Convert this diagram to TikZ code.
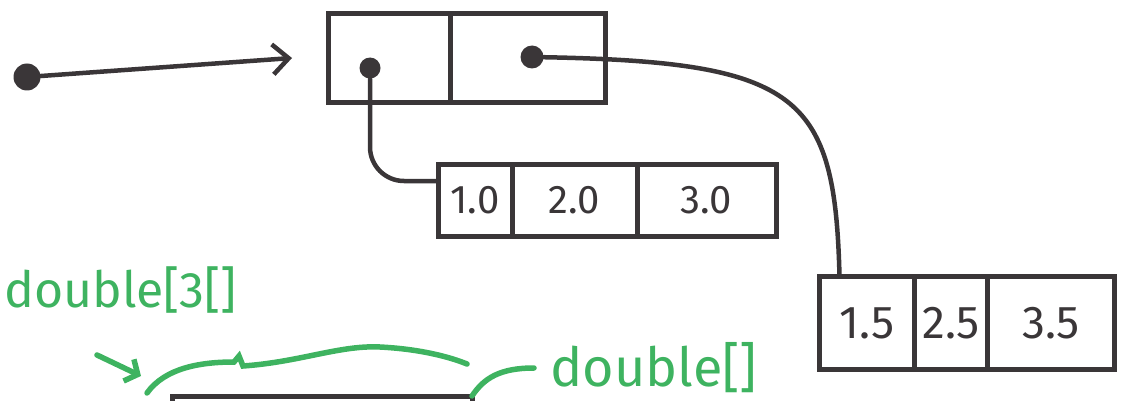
\documentclass[tikz,border=0pt]{standalone}
\usepackage{fontspec}
\setmainfont{Fira Sans}
\usetikzlibrary{positioning,arrows.meta}
\definecolor{ink}{RGB}{58,54,56}
\definecolor{marker}{RGB}{62,179,96}

\begin{document}
\begin{tikzpicture}[x=1pt,y=-1pt,
    cell/.style={draw=ink,line width=5pt,outer sep=0pt,inner sep=0pt,text=ink},
    ball/.style={circle,fill=ink,inner sep=0pt,minimum size=#1},
    link/.style={draw=ink,line width=4.5pt,line cap=round},
    note/.style={draw=marker,line width=5.5pt,line cap=round},
    notetext/.style={text=marker,inner sep=0pt,font=\fontsize{54}{58}\selectfont}]
  \useasboundingbox (0,0) rectangle (1147,401);

  \node[cell,minimum width=122pt,minimum height=89pt] (h0) at (389,58) {};
  \node[cell,minimum width=155pt,minimum height=89pt,right=0pt of h0] (h1) {};
  \node[ball=21pt] (p0) at (370,68) {};
  \node[ball=23pt] (p1) at (532,57) {};
  \node[ball=27pt] (start) at (27,77) {};

  \node[cell,minimum width=74pt,minimum height=72pt,font=\fontsize{40}{44}\selectfont] (r0a) at (475,200) {1.0};
  \node[cell,minimum width=125pt,minimum height=72pt,font=\fontsize{40}{44}\selectfont,right=0pt of r0a] (r0b) {2.0};
  \node[cell,minimum width=139pt,minimum height=72pt,font=\fontsize{40}{44}\selectfont,right=0pt of r0b] (r0c) {3.0};

  \node[cell,minimum width=95pt,minimum height=93pt,font=\fontsize{46}{50}\selectfont] (r1a) at (867,323) {1.5};
  \node[cell,minimum width=73pt,minimum height=93pt,font=\fontsize{46}{50}\selectfont,right=0pt of r1a] (r1b) {2.5};
  \node[cell,minimum width=127pt,minimum height=93pt,font=\fontsize{46}{50}\selectfont,right=0pt of r1b] (r1c) {3.5};

  \node[cell,minimum width=300pt,minimum height=70pt] (row) at (322,431) {};

  \draw[link,-{Straight Barb[length=16pt,width=30pt]}] (start) -- ([xshift=-36pt]h0.west);
  \draw[link,rounded corners=34pt] (p0) |- ([yshift=19pt]r0a.west);
  \draw[link] (p1) .. controls (800,62) and (835,95) .. ([xshift=20pt]r1a.north west);

  \node[notetext,anchor=west,font=\fontsize{50}{54}\selectfont] (lbl2d) at (4,290) {double[3[]};
  \node[notetext,anchor=west] (lbl1d) at (550,368) {double[]};
  \coordinate (a0) at (97,355);
  \coordinate (a1) at (141,376);
  \draw[note,-{Straight Barb[length=10pt,width=24pt]}] (a0) -- (a1);
  \draw[note] (147,393) .. controls (165,368) and (200,362) .. (234,362) -- (239,356) -- (243,366)
    .. controls (300,362) and (340,345) .. (380,347) .. controls (420,349) and (450,357) .. (467,364);
  \draw[note] (row.north east) .. controls (484,378) and (500,368) .. ([xshift=-16pt]lbl1d.west);
\end{tikzpicture}
\end{document}
